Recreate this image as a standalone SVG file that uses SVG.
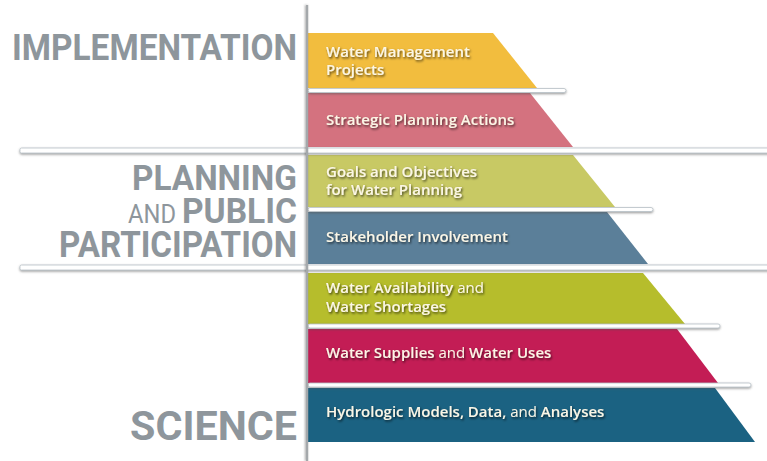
<svg xmlns="http://www.w3.org/2000/svg" width="767" height="461" viewBox="0 0 767 461">
<defs>
<filter id="ts" x="-10%" y="-30%" width="130%" height="180%"><feDropShadow dx="1" dy="1.5" stdDeviation="0.9" flood-color="#000" flood-opacity="0.65"/></filter>
<filter id="bs" x="-5%" y="-100%" width="110%" height="400%"><feDropShadow dx="0" dy="1.2" stdDeviation="0.8" flood-color="#555" flood-opacity="0.6"/></filter>
<filter id="vs" x="-300%" y="-5%" width="700%" height="110%"><feDropShadow dx="-1" dy="0" stdDeviation="1.2" flood-color="#444" flood-opacity="0.5"/></filter>
</defs>
<style>
.lbl{font-family:"Open Sans","Liberation Sans",sans-serif;font-weight:600;font-size:15px;fill:#FBF6E6;filter:url(#ts)}
.lt{font-weight:400}
.hd{font-family:"Roboto","Liberation Sans",sans-serif;font-weight:700;fill:#8E969C}
.hl{font-family:"Roboto","Liberation Sans",sans-serif;font-weight:400;fill:#8E969C}
.bar{fill:#FFFFFF;stroke:#B8C0C6;stroke-width:0.8;filter:url(#bs)}
</style>
<rect width="767" height="461" fill="#FFFFFF"/>

<g id="tier-water-management-projects">
<polygon points="308,33 493,33 537,88 308,88" fill="#F2BD3E"/>
<text class="lbl" x="326" y="57">Water Management</text>
<text class="lbl" x="326" y="75">Projects</text>
</g>
<g id="tier-strategic-planning-actions">
<polygon points="308,93 530,93 573,147 308,147" fill="#D4727F"/>
<text class="lbl" x="326" y="125">Strategic Planning Actions</text>
</g>
<g id="tier-goals-objectives">
<polygon points="308,155 573,155 615,207 308,207" fill="#C8C964"/>
<text class="lbl" x="326" y="177">Goals and Objectives</text>
<text class="lbl" x="326" y="195">for Water Planning</text>
</g>
<g id="tier-stakeholder-involvement">
<polygon points="308,212 607,212 648,264 308,264" fill="#5B7F99"/>
<text class="lbl" x="326" y="242">Stakeholder Involvement</text>
</g>
<g id="tier-water-availability">
<polygon points="308,273 643,273 685,324 308,324" fill="#B6BD2C"/>
<text class="lbl" x="326" y="293">Water Availability <tspan class="lt">and</tspan></text>
<text class="lbl" x="326" y="312">Water Shortages</text>
</g>
<g id="tier-water-supplies">
<polygon points="308,329 677,329 718,383 308,383" fill="#C31D55"/>
<text class="lbl" x="326" y="358">Water Supplies <tspan class="lt">and</tspan> Water Uses</text>
</g>
<g id="tier-hydrologic-models">
<polygon points="308,388 715,388 755,442 308,442" fill="#1B6282"/>
<text class="lbl" x="326" y="417">Hydrologic Models, Data, <tspan class="lt">and</tspan> Analyses</text>
</g>

<g id="separators">
<rect class="bar" x="308" y="88.5" width="258" height="4" rx="2"/>
<rect class="bar" x="308" y="207.5" width="345" height="4" rx="2"/>
<rect class="bar" x="308" y="324" width="412" height="4" rx="2"/>
<rect class="bar" x="308" y="383" width="443" height="4" rx="2"/>
<rect class="bar" x="20" y="148" width="760" height="5" rx="1.5"/>
<rect class="bar" x="20" y="265" width="760" height="5" rx="1.5"/>
</g>

<g id="axis">
<rect x="306" y="5" width="2.2" height="456" fill="#A4A8AB" filter="url(#vs)"/>
</g>

<g id="label-implementation">
<text class="hd" x="297" y="60" font-size="37" text-anchor="end" textLength="285" lengthAdjust="spacingAndGlyphs">IMPLEMENTATION</text>
</g>
<g id="label-planning">
<text class="hd" x="297" y="190" font-size="35" text-anchor="end" textLength="165" lengthAdjust="spacingAndGlyphs">PLANNING</text>
<text class="hl" x="128" y="223" font-size="25" textLength="48" lengthAdjust="spacingAndGlyphs">AND</text>
<text class="hd" x="297" y="223" font-size="35" text-anchor="end" textLength="115" lengthAdjust="spacingAndGlyphs">PUBLIC</text>
<text class="hd" x="297" y="257" font-size="36" text-anchor="end" textLength="238" lengthAdjust="spacingAndGlyphs">PARTICIPATION</text>
</g>
<g id="label-science">
<text class="hd" x="297" y="440" font-size="41" text-anchor="end" textLength="167" lengthAdjust="spacingAndGlyphs">SCIENCE</text>
</g>
</svg>
